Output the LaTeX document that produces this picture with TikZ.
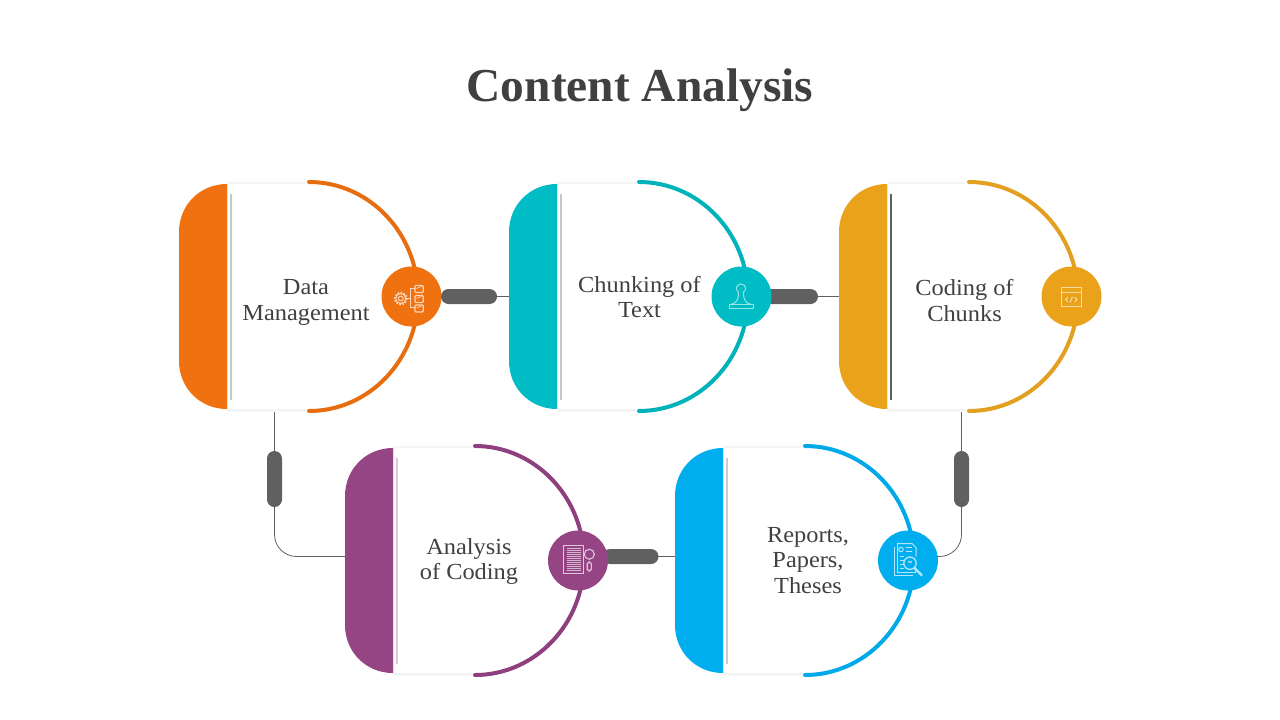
\documentclass[tikz,border=0pt]{standalone}
\usepackage{fontspec}
\setmainfont[FakeStretch=1.06]{Liberation Serif}
\newfontfamily\titlefont[FakeStretch=1.005]{Liberation Serif}
\usetikzlibrary{shapes.misc,calc}
\pgfdeclarelayer{bg}
\pgfsetlayers{bg,main}
\definecolor{oBar}{HTML}{F0710F}\definecolor{oArc}{HTML}{E66E10}
\definecolor{tBar}{HTML}{00BCC4}\definecolor{tArc}{HTML}{00B2BA}
\definecolor{aBar}{HTML}{EAA21B}\definecolor{aArc}{HTML}{E3A020}
\definecolor{pBar}{HTML}{954584}\definecolor{pArc}{HTML}{8E3F7E}
\definecolor{bBar}{HTML}{00AEEF}\definecolor{bArc}{HTML}{00A9E8}
\definecolor{ink}{HTML}{404040}\definecolor{pillc}{HTML}{606060}
\tikzset{
  arcline/.style={line width=4pt,line cap=round},
  iconc/.style={circle,minimum size=60pt,inner sep=0pt,fill=#1},
  pill/.style={rounded rectangle,fill=pillc,inner sep=0pt,minimum width=56pt,minimum height=15pt},
  vpill/.style={rounded corners=7.5pt,fill=pillc,inner sep=0pt,minimum width=15pt,minimum height=56pt},
  link/.style={draw=pillc,line width=0.8pt},
  lbl/.style={text=ink,align=center,font=\fontsize{23}{25.5}\selectfont,inner sep=0pt},
  glyph/.style={draw=white,draw opacity=.7,line width=1pt,fill=none},
  anchorbox/.style={inner sep=0pt,minimum width=49pt,minimum height=225pt}
}
% #1 name, #2 x0, #3 y0, #4 bar colour, #5 arc colour, #6 rule colour
\newcommand{\cardshape}[6]{%
  \begin{scope}[shift={(#2,#3)}]
    \node[anchorbox] (#1) at (73.5,112.5) {};
    \fill[black!2] (48,-3) rectangle (127,228);
    \fill[black!5] (48,-1.5) rectangle (127,226.5);
    \fill[white] (49,0.2) rectangle (131,224.8);
    \fill[#4] (48,0) .. controls (21,0) and (0,21) .. (0,48) -- (0,177)
      .. controls (0,204) and (21,225) .. (48,225) -- cycle;
    \draw[arcline,#5] (130,-2) .. controls (190,-2) and (239,49) .. (239,112.5)
      .. controls (239,176) and (190,227) .. (130,227);
    \draw[#6,line width=1.3pt] (52,10) -- (52,216);
  \end{scope}}
\begin{document}
\begin{tikzpicture}[x=1pt,y=-1pt]
\useasboundingbox (0,0) rectangle (1280,720);
\begin{pgfonlayer}{bg}
\fill[white] (0,0) rectangle (1280,720);
\end{pgfonlayer}
\node[text=ink,inner sep=0pt,font=\titlefont\fontsize{47.2}{50}\selectfont\bfseries] (title) at (640,90) {Content Analysis};

\cardshape{c1}{179}{184}{oBar}{oArc}{black!22}
\cardshape{c2}{509}{184}{tBar}{tArc}{black!22}
\cardshape{c3}{839}{184}{aBar}{aArc}{pillc}
\cardshape{c4}{345}{448}{pBar}{pArc}{pBar!30}
\cardshape{c5}{675}{448}{bBar}{bArc}{black!20}

\node[iconc=oBar] (i1) at (411.5,296.5) {};
\node[iconc=tBar] (i2) at (741.5,296.5) {};
\node[iconc=aBar] (i3) at (1071.5,296.5) {};
\node[iconc=pBar] (i4) at (578,560.5) {};
\node[iconc=bBar] (i5) at (908,560.5) {};

\node[lbl] (t1) at (306,302.5) {Data\\Management};
\node[lbl] (t2) at (639.5,297) {Chunking of\\Text};
\node[lbl] (t3) at (964.5,300.5) {Coding of\\Chunks};
\node[lbl] (t4) at (469,561.5) {Analysis\\of Coding};
\node[lbl] (t5) at (808,560.5) {Reports,\\Papers,\\Theses};

\node[pill] (p1) at (469,296.5) {};
\begin{pgfonlayer}{bg}
\draw[link] (i1) -- (c2.west |- i1);
\draw[link] (i2) -- (c3.west |- i2);
\node[pill] (p2) at (790,296.5) {};
\node[pill] (p3) at (630.5,556.5) {};
\node[vpill] (p4) at (274.5,479) {};
\node[vpill] (p5) at (961.5,479) {};
\draw[link] (i4 |- p3) -- (c5.west |- p3);
\draw[link,rounded corners=22pt] (p4 |- c1.south) -- (p4.center) -- (p4 |- p3) -- (c4.west |- p3);
\draw[link,rounded corners=22pt] (p5 |- c3.south) -- (p5.center) -- (p5 |- p3) -- (i5 |- p3);
\end{pgfonlayer}

% icon 1
\begin{scope}[shift={(i1.center)}]
  \draw[glyph] (-10.7,2) circle (2.4);
  \draw[glyph,line width=1.6pt,dash pattern=on 1.6pt off 1.5pt] (-10.7,2) circle (6);
  \draw[glyph] (-10.7,2) circle (5);
  \draw[glyph] (-4.7,2) -- (-1,2);
  \draw[glyph] (3,-8) -- (-1,-8) -- (-1,11) -- (3,11);
  \foreach \yy in {-11,-1,8.5} {
    \draw[glyph,line width=1.2pt,rounded corners=1pt] (3.5,\yy) rectangle (11.7,\yy+7);
    \draw[glyph,line width=.8pt] (5,\yy+3) -- (10,\yy+1);
  }
\end{scope}
% icon 2
\begin{scope}[shift={(i2.center)}]
  \draw[glyph,draw opacity=.6] (-12.5,7.7) rectangle (11.5,12.3);
  \draw[glyph,draw opacity=.6] (-10,7.7) .. controls (-3,6) and (-3,0) .. (-3,-4.5)
    .. controls (-6,-5.5) and (-6,-12.5) .. (-.5,-12.5)
    .. controls (5,-12.5) and (5,-5.5) .. (2,-4.5)
    .. controls (2,0) and (2,6) .. (9,7.7);
\end{scope}
% icon 3
\begin{scope}[shift={(i3.center)}]
  \draw[glyph,draw opacity=.6] (-10.3,-9.3) rectangle (9.7,10);
  \draw[glyph,draw opacity=.6] (-10.3,-4) -- (9.7,-4);
  \draw[glyph,draw opacity=.7,line width=.8pt] (-3.5,0.8) -- (-6,3.2) -- (-3.5,5.6);
  \draw[glyph,draw opacity=.7,line width=.8pt] (3,0.8) -- (5.5,3.2) -- (3,5.6);
  \draw[glyph,draw opacity=.7,line width=.8pt] (1,0.2) -- (-1.5,6.2);
\end{scope}
% icon 4
\begin{scope}[shift={(i4.center)}]
  \draw[glyph,line width=1.1pt] (-14.3,-14.7) rectangle (5.7,13.3);
  \foreach \yy in {-12,-10,-8,-6,-4,-2,0,2,4,6,8,10}
    \draw[white,opacity=.6,line width=1.4pt] (-11.5,\yy) -- (3,\yy);
  \draw[glyph,line width=1.1pt] (11.3,-6.3) circle (5);
  \draw[glyph,line width=1.1pt,rounded corners=1.8pt] (9.2,1.5) rectangle (13.3,10.5);
\end{scope}
% icon 5
\begin{scope}[shift={(i5.center)}]
  \draw[glyph] (-13.3,-14) -- (-13.3,14.5) -- (5,14.5);
  \draw[glyph] (-11,-17) -- (4,-17) -- (8,-13) -- (8,-4);
  \draw[glyph] (-11,-17) -- (-11,12) -- (7,12) -- (7,10);
  \draw[glyph] (-7,-11) circle (2.2);
  \draw[glyph] (-2,-13) -- (4,-13);
  \draw[glyph] (-2,-9) -- (4,-9);
  \foreach \yy in {-4,0,4,8} \draw[glyph] (-8,\yy) -- (-4,\yy);
  \draw[glyph,line width=1.3pt] (2,2.7) circle (6.2);
  \draw[white,opacity=.5,line width=2pt] (0,1) -- (4,1);
  \draw[glyph,line width=2.2pt] (6.5,7.5) -- (14,15);
\end{scope}
\end{tikzpicture}
\end{document}
